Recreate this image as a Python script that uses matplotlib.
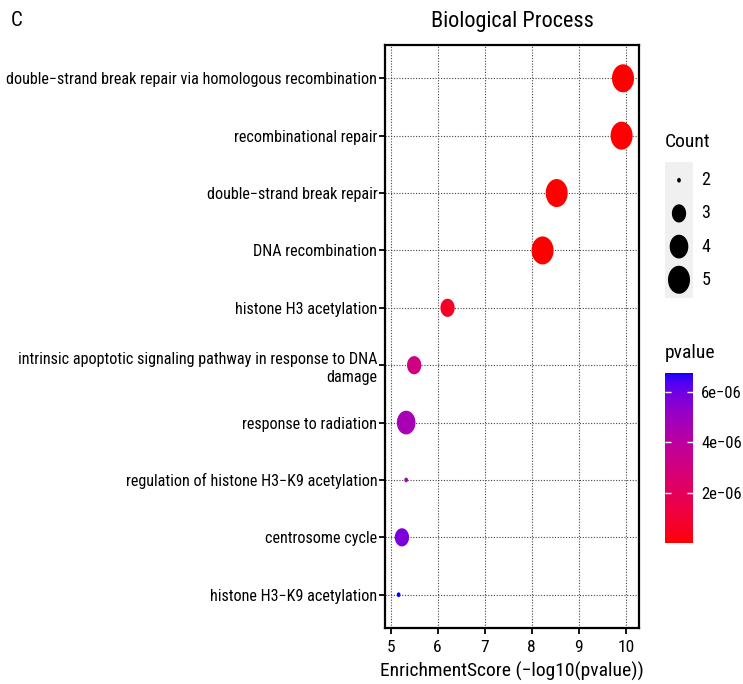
import numpy as np
import matplotlib
matplotlib.use("Agg")
import matplotlib.pyplot as plt
from matplotlib.path import Path
from matplotlib.colors import ListedColormap, Normalize
from matplotlib.cm import ScalarMappable

plt.rcParams['font.family'] = ['Roboto Condensed', 'Liberation Sans', 'DejaVu Sans']

# GO terms, top to bottom
terms = [
    "double\u2212strand break repair via homologous recombination",
    "recombinational repair",
    "double\u2212strand break repair",
    "DNA recombination",
    "histone H3 acetylation",
    "intrinsic apoptotic signaling pathway in response to DNA\ndamage",
    "response to radiation",
    "regulation of histone H3\u2212K9 acetylation",
    "centrosome cycle",
    "histone H3\u2212K9 acetylation",
]
score = [9.94, 9.91, 8.53, 8.23, 6.21, 5.50, 5.33, 5.33, 5.24, 5.17]
count = [5, 5, 5, 5, 3, 3, 4, 2, 3, 2]
count_keys = [2, 3, 4, 5]
pvalue = [10 ** (-s) for s in score]
p_ticks = [2e-6, 4e-6, 6e-6]
x_ticks = [5, 6, 7, 8, 9, 10]


def srgb_to_lab(rgb):
    c = np.asarray(rgb, float)
    lin = np.where(c <= 0.04045, c / 12.92, ((c + 0.055) / 1.055) ** 2.4)
    M = np.array([[0.4124, 0.3576, 0.1805],
                  [0.2126, 0.7152, 0.0722],
                  [0.0193, 0.1192, 0.9505]])
    xyz = M @ lin / np.array([0.95047, 1.0, 1.08883])
    d = 6 / 29
    f = np.where(xyz > d ** 3, np.cbrt(xyz), xyz / (3 * d ** 2) + 4 / 29)
    return np.array([116 * f[1] - 16, 500 * (f[0] - f[1]), 200 * (f[1] - f[2])])


def lab_to_srgb(lab):
    L, a, b = lab
    fy = (L + 16) / 116
    fx = fy + a / 500
    fz = fy - b / 200
    d = 6 / 29
    f = np.array([fx, fy, fz])
    xyz = np.where(f > d, f ** 3, 3 * d ** 2 * (f - 4 / 29)) * np.array([0.95047, 1.0, 1.08883])
    Minv = np.linalg.inv(np.array([[0.4124, 0.3576, 0.1805],
                                   [0.2126, 0.7152, 0.0722],
                                   [0.0193, 0.1192, 0.9505]]))
    lin = np.clip(Minv @ xyz, 0, 1)
    c = np.where(lin <= 0.0031308, 12.92 * lin, 1.055 * lin ** (1 / 2.4) - 0.055)
    return np.clip(c, 0, 1)


# red -> blue gradient interpolated in Lab space
lab_lo = srgb_to_lab([1, 0, 0])
lab_hi = srgb_to_lab([0, 0, 1])
cmap = ListedColormap([lab_to_srgb(lab_lo + t * (lab_hi - lab_lo)) for t in np.linspace(0, 1, 256)])
norm = Normalize(vmin=min(pvalue), vmax=max(pvalue))

# slightly narrow ellipse marker
t = np.linspace(0, 2 * np.pi, 80)
ell = Path(np.column_stack([0.786 * np.cos(t), np.sin(t)]), closed=True)


def marker_area(c):
    # area-style size scale, diameter in pixels
    frac = np.sqrt((np.asarray(c, float) - min(count_keys)) / (max(count_keys) - min(count_keys)))
    d = 4.7 + (28 - 4.7) * frac
    return (d * 0.72) ** 2


W, H = 743, 684
fig = plt.figure(figsize=(W / 100, H / 100), dpi=100)

ax = fig.add_axes([385 / W, 1 - 628 / H, 254 / W, 583 / H])
ypos = np.arange(len(terms))[::-1] + 1
ax.scatter(score, ypos, s=marker_area(count), c=pvalue, cmap=cmap, norm=norm,
           marker=ell, linewidths=0, zorder=3)
ax.set_xlim(4.88, 10.28)
ax.set_ylim(0.42, 10.58)
ax.set_xticks(x_ticks)
ax.set_yticks(ypos)
ax.set_yticklabels(terms, fontsize=11.6, linespacing=1.3)
for lab in ax.get_yticklabels():
    lab.set_horizontalalignment('right')
    lab.set_multialignment('right')
ax.tick_params(axis='x', labelsize=12.5, length=4, width=1.3, pad=5)
ax.tick_params(axis='y', length=4, width=1.3, pad=1.5)
ax.set_axisbelow(True)
ax.grid(True, color='#444444', linestyle=(0, (1, 1.5)), linewidth=0.8)
for sp in ax.spines.values():
    sp.set_linewidth(1.6)

fig.text(512 / W, 1 - 22 / H, "Biological Process", ha='center', va='center', fontsize=16)
fig.text(11 / W, 1 - 21 / H, "C", ha='left', va='center', fontsize=15)
fig.text(512 / W, 1 - 671 / H, "EnrichmentScore (\u2212log10(pvalue))", ha='center', va='center', fontsize=14)

# Count legend
lax = fig.add_axes([665 / W, 1 - 298 / H, 28 / W, 136 / H])
lax.set_facecolor('#f0f0f0')
key_y = np.arange(len(count_keys))[::-1]
lax.scatter([0] * len(count_keys), key_y, s=marker_area(count_keys), c='black', marker=ell, linewidths=0)
lax.set_xlim(-1, 1)
lax.set_ylim(-0.55, len(count_keys) - 0.45)
lax.set_xticks([])
lax.set_yticks([])
for sp in lax.spines.values():
    sp.set_visible(False)
for k, yk in zip(count_keys, key_y):
    lax.text(1.6, yk, str(k), ha='left', va='center', fontsize=13, transform=lax.transData, clip_on=False)
fig.text(665 / W, 1 - 142 / H, "Count", ha='left', va='center', fontsize=14)

# pvalue colour bar
cax = fig.add_axes([665 / W, 1 - 543 / H, 28 / W, 170 / H])
cb = fig.colorbar(ScalarMappable(norm=norm, cmap=cmap), cax=cax)
cb.outline.set_visible(False)
cb.set_ticks(p_ticks)
cb.set_ticklabels([f"{v:.0e}".replace("-", "\u2212") for v in p_ticks])
cax.tick_params(direction='in', color='white', length=4, width=1, left=True, right=True,
                labelsize=12, pad=6)
fig.text(665 / W, 1 - 353 / H, "pvalue", ha='left', va='center', fontsize=14)

fig.savefig("out.png", dpi=100)
